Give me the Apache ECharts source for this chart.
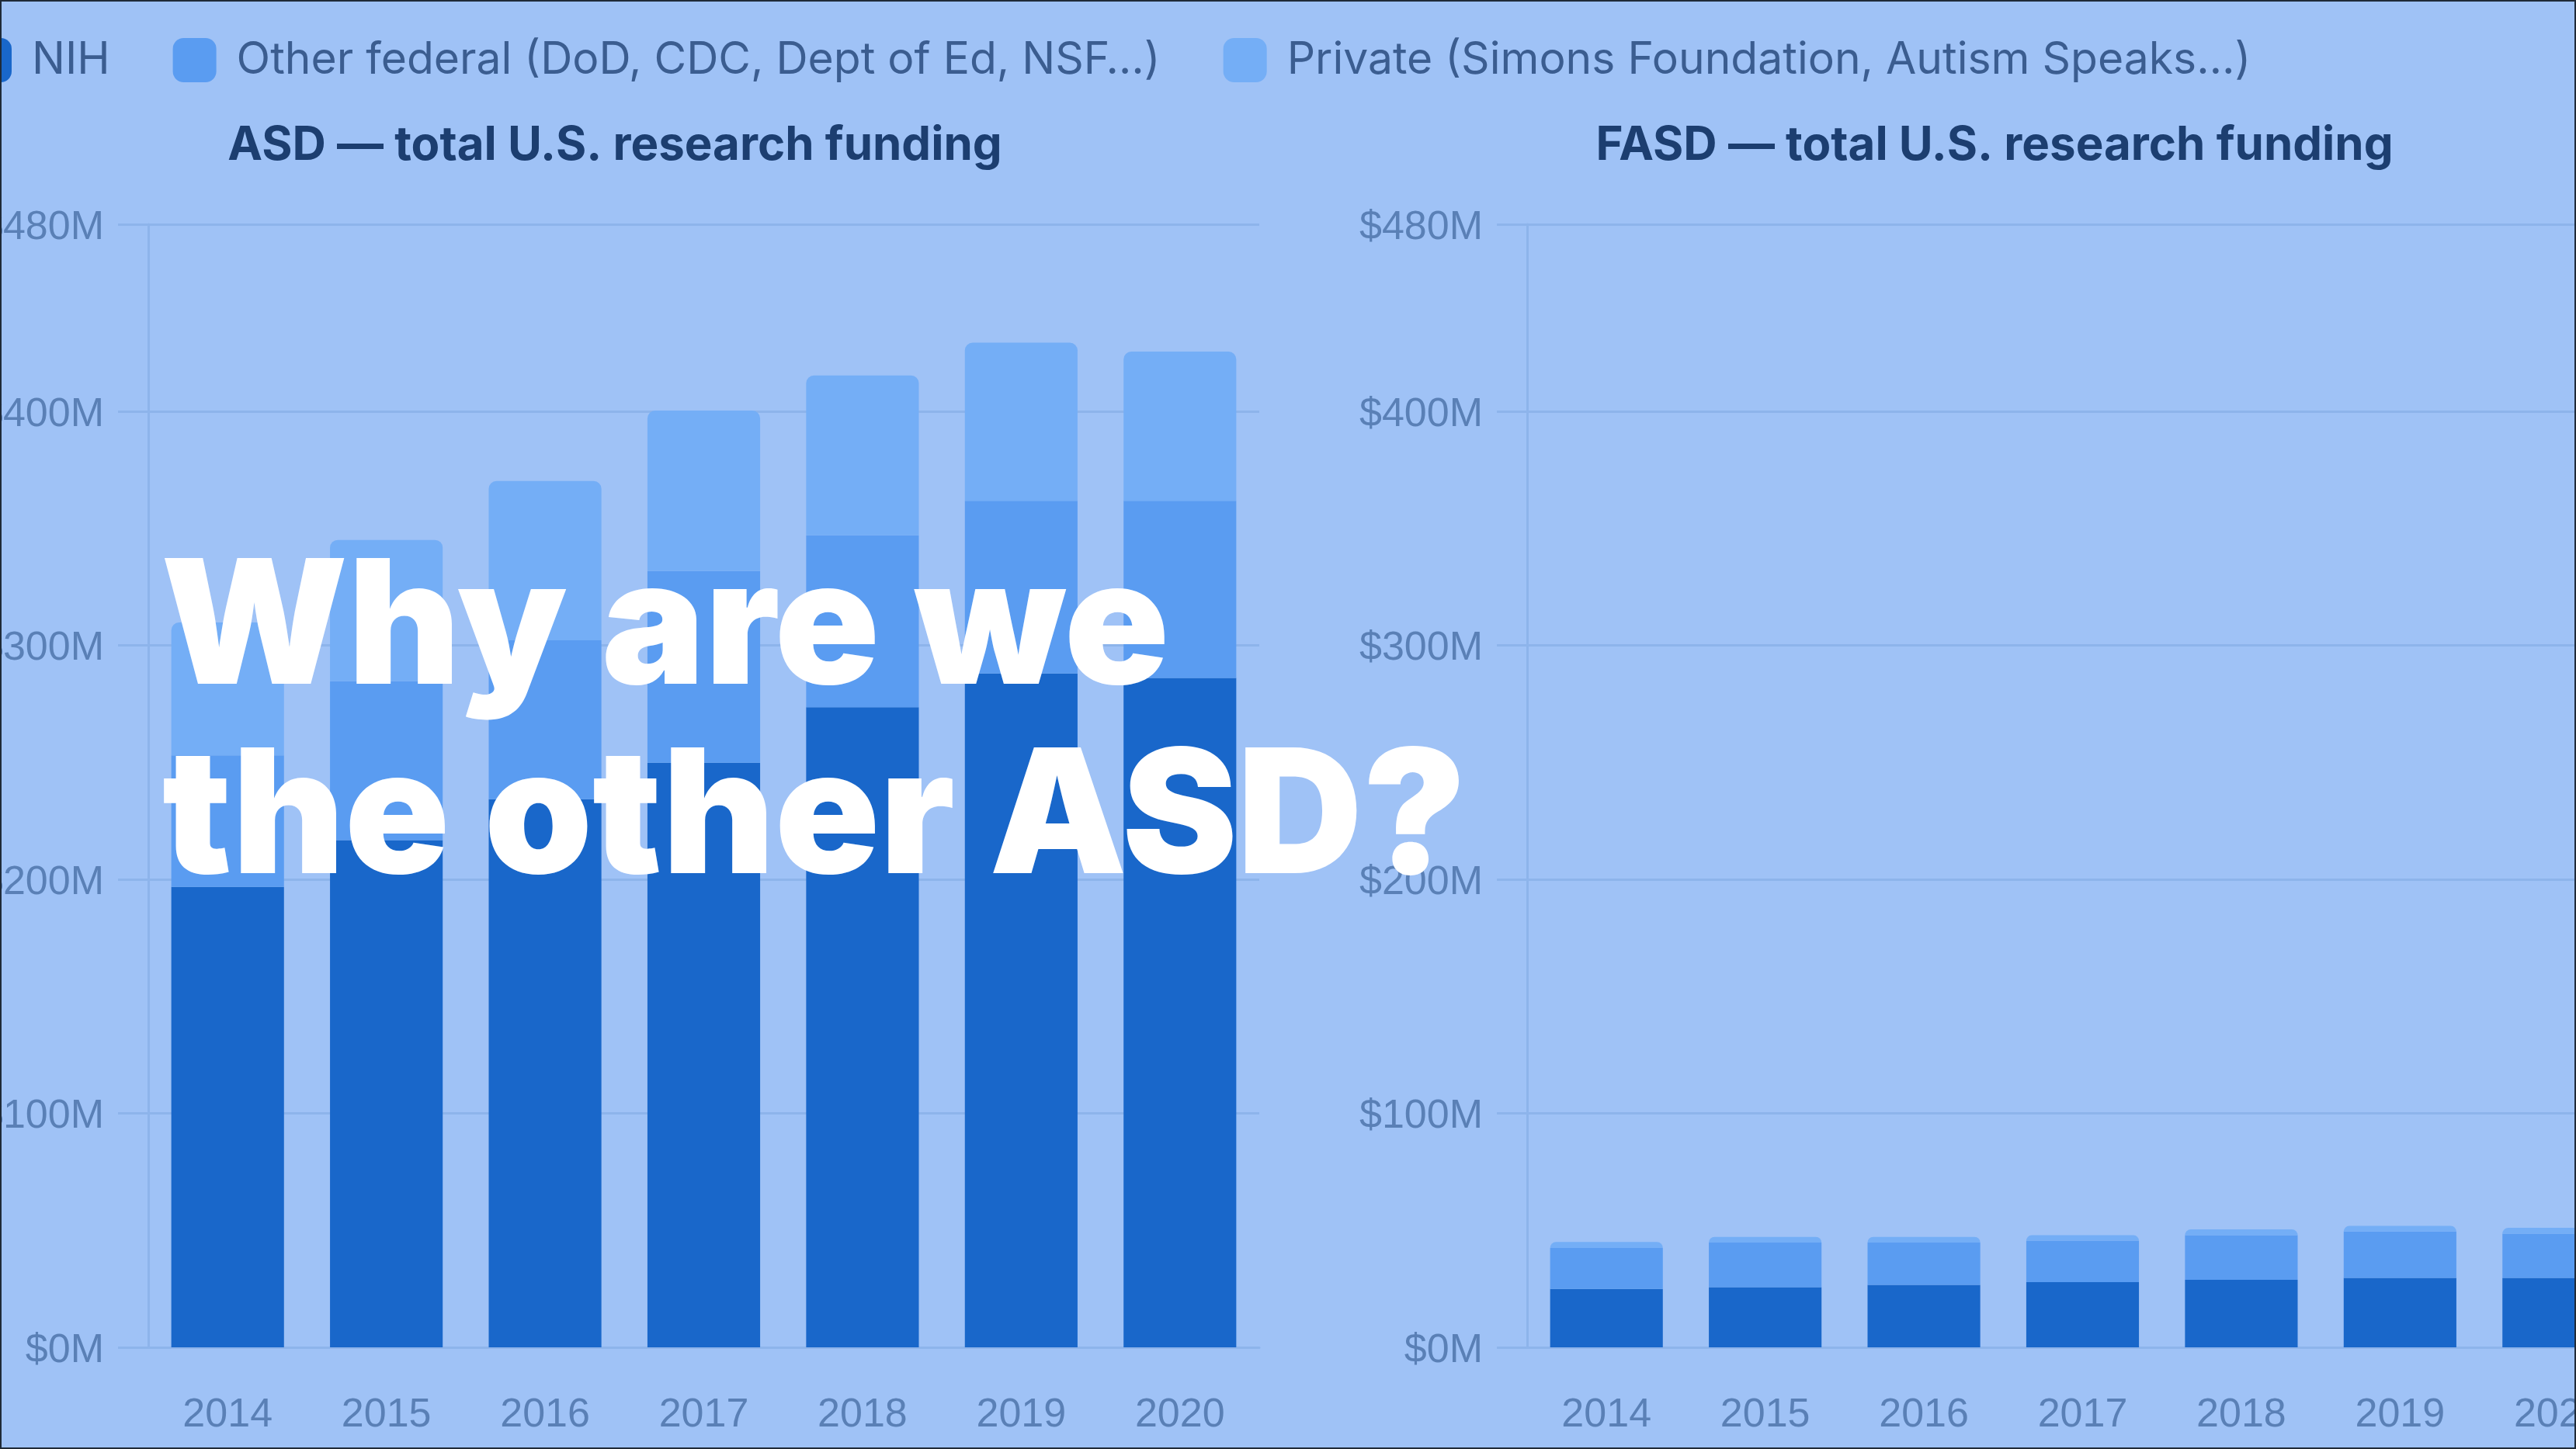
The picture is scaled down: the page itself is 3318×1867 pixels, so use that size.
<!DOCTYPE html>
<html>
<head>
<meta charset="utf-8">
<title>ASD vs FASD research funding</title>
<script src="https://cdn.jsdelivr.net/npm/echarts@6/dist/echarts.min.js"></script>
<style>
    html, body { margin: 0; padding: 0; width: 100%; height: 100%; overflow: hidden; background: #9fc2f6; }
    /* chart is wider than the window, the slide crops it on both sides */
    #main { position: absolute; left: -97px; top: 0; width: 3554px; height: 1867px; }
    #frame { position: absolute; left: 0; top: 0; right: 0; bottom: 0; border: 2px solid #1f2a38; pointer-events: none; }
</style>
</head>
<body>
<div id="main"></div>
<div id="frame"></div>
<script>
var myChart = echarts.init(document.getElementById('main'));

// years on the x axis
var years = ['2014', '2015', '2016', '2017', '2018', '2019', '2020'];

// ASD funding, $M
var asdNih = [196.8, 216.8, 234.3, 249.9, 273.6, 288.0, 286.1];
var asdOtherFed = [56.2, 67.9, 67.9, 81.9, 73.5, 73.8, 75.7];
var asdPrivate = [56.8, 60.4, 68.1, 68.6, 68.3, 67.6, 63.8];

// FASD funding, $M
var fasdNih = [25.0, 25.7, 26.7, 27.9, 28.9, 29.7, 29.7];
var fasdOtherFed = [17.5, 19.1, 18.1, 17.7, 19.0, 19.8, 18.9];
var fasdPrivate = [2.5, 2.4, 2.4, 2.3, 2.5, 2.4, 2.5];

var seriesNames = ['NIH', 'Other federal (DoD, CDC, Dept of Ed, NSF…)', 'Private (Simons Foundation, Autism Speaks…)'];
var chartTitles = ['ASD — total U.S. research funding', 'FASD — total U.S. research funding'];
var headline = ['Why are we', 'the other ASD?'];

var colors = ['#1967ca', '#5a9cf1', '#74aef6'];
var gridColor = '#8db4eb';
var labelColor = '#5a80b6';

function makeXAxis(idx) {
    return {
        type: 'category',
        gridIndex: idx,
        data: years,
        axisLine: { show: true, lineStyle: { color: gridColor, width: 3 } },
        axisTick: { show: false },
        axisLabel: { color: labelColor, fontSize: 52, fontFamily: 'Liberation Sans', margin: 62 }
    };
}

function makeYAxis(idx) {
    return {
        type: 'value',
        gridIndex: idx,
        min: 0,
        max: 480,
        interval: 100,
        axisLine: { show: true, lineStyle: { color: gridColor, width: 3 } },
        axisTick: { show: true, length: 39, lineStyle: { color: gridColor, width: 3 } },
        splitLine: { show: true, lineStyle: { color: gridColor, width: 3 } },
        axisLabel: {
            color: labelColor, fontSize: 52, fontFamily: 'Liberation Sans', margin: 57,
            formatter: function (v) { return '{v|$' + v + 'M}'; },
            // nudge the labels a few px down, like the original
            rich: { v: { color: labelColor, fontSize: 52, fontFamily: 'Liberation Sans', padding: [9, 0, 0, 0] } }
        }
    };
}

function makeSeries(idx, nih, other, priv) {
    var stack = 'total' + idx;
    return [{
        name: seriesNames[0], type: 'bar', stack: stack, xAxisIndex: idx, yAxisIndex: idx,
        barCategoryGap: '29%', data: nih, itemStyle: { color: colors[0] }
    }, {
        name: seriesNames[1], type: 'bar', stack: stack, xAxisIndex: idx, yAxisIndex: idx,
        barCategoryGap: '29%', data: other, itemStyle: { color: colors[1] }
    }, {
        name: seriesNames[2], type: 'bar', stack: stack, xAxisIndex: idx, yAxisIndex: idx,
        barCategoryGap: '29%', data: priv, itemStyle: { color: colors[2], borderRadius: [10, 10, 0, 0] }
    }];
}

var option = {
    backgroundColor: '#9fc2f6',
    animation: false,
    color: colors,
    title: [{
        text: chartTitles[0], left: 884, top: 153, textAlign: 'center',
        textStyle: { color: '#1c3e70', fontSize: 60, fontWeight: 'bold', fontFamily: 'Inter' }
    }, {
        text: chartTitles[1], left: 2661, top: 153, textAlign: 'center',
        textStyle: { color: '#1c3e70', fontSize: 60, fontWeight: 'bold', fontFamily: 'Inter' }
    }],
    legend: {
        data: seriesNames,
        left: 51,
        top: 44,
        icon: 'roundRect',
        itemWidth: 56,
        itemHeight: 57,
        itemGap: 81,
        textStyle: { color: '#3b5d90', fontSize: 57, fontFamily: 'Inter', padding: [0, 0, 0, 21] }
    },
    grid: [
        { left: 288, top: 289, width: 1431, height: 1447 },
        { left: 2064, top: 289, width: 1431, height: 1447 }
    ],
    xAxis: [makeXAxis(0), makeXAxis(1)],
    yAxis: [makeYAxis(0), makeYAxis(1)],
    series: makeSeries(0, asdNih, asdOtherFed, asdPrivate).concat(makeSeries(1, fasdNih, fasdOtherFed, fasdPrivate)),
    graphic: [{
        type: 'text', left: 304, top: 702, z: 100,
        style: { text: headline[0], fill: '#ffffff', font: '900 223px Inter', verticalAlign: 'top' }
    }, {
        type: 'text', left: 306, top: 946, z: 100,
        style: { text: headline[1], fill: '#ffffff', font: '900 223px Inter', verticalAlign: 'top' }
    }]
};

myChart.setOption(option);
</script>
</body>
</html>
